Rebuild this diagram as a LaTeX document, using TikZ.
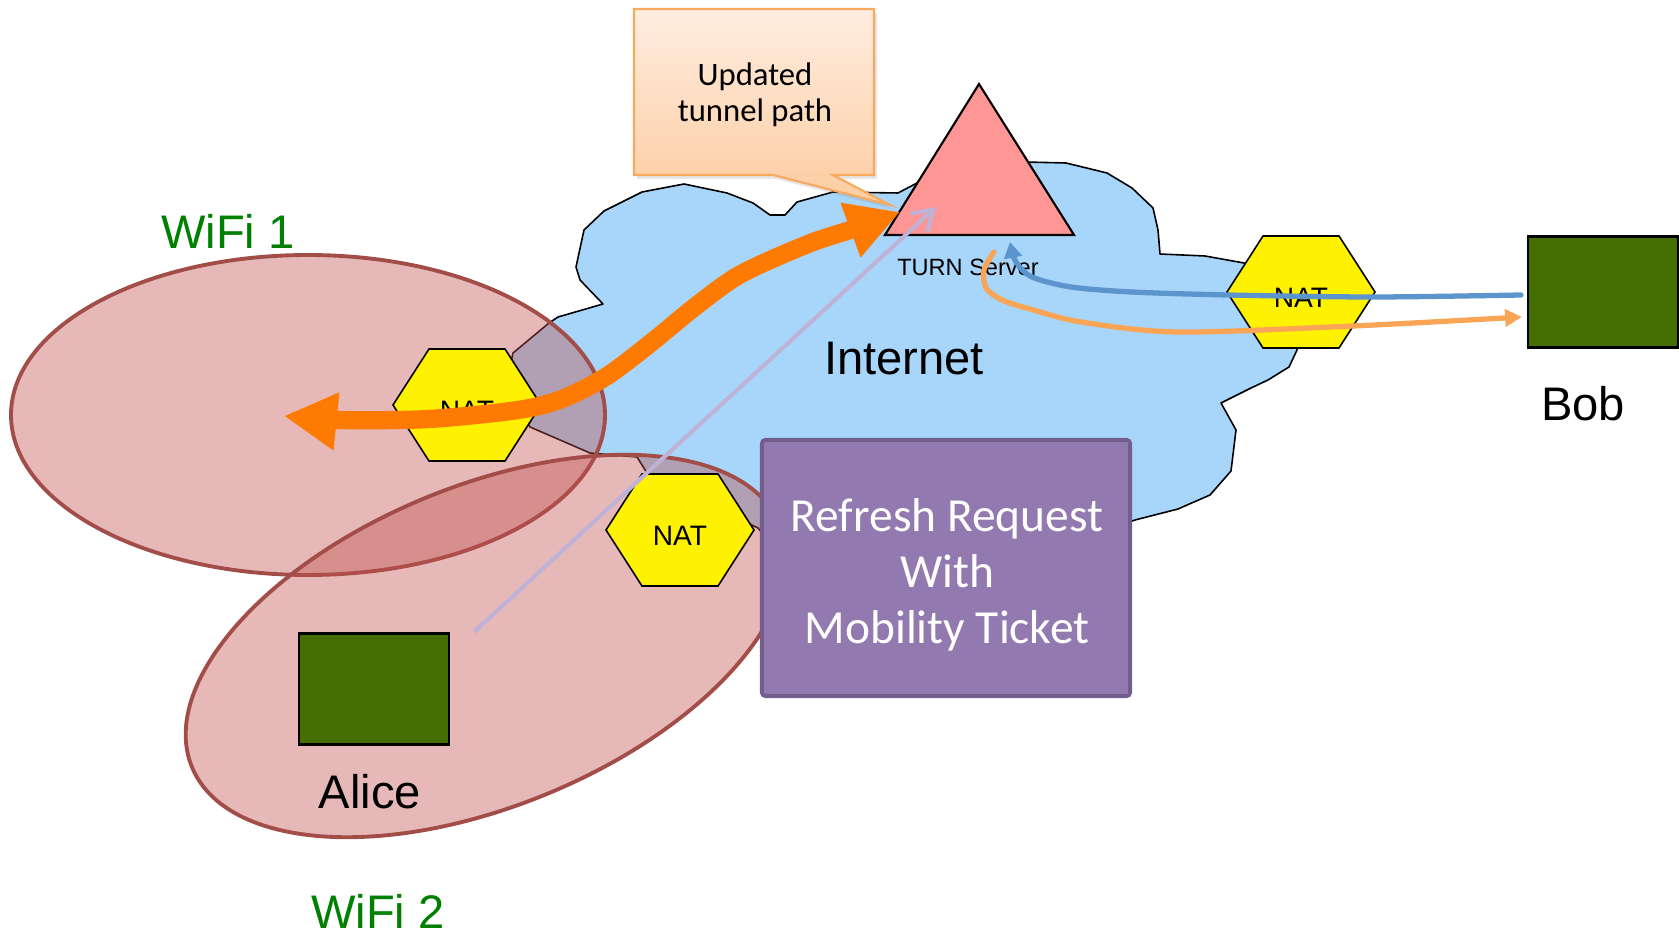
\documentclass[tikz,border=0pt]{standalone}
\usepackage{fontspec}
\newfontfamily\arialf{Liberation Sans}
\newfontfamily\calibf{Carlito}
\usepackage{tikz}
\usetikzlibrary{arrows.meta,shadows}

\definecolor{cloudblue}{RGB}{168,213,250}
\definecolor{turnpink}{RGB}{255,150,150}
\definecolor{wifired}{RGB}{192,80,77}
\definecolor{wifiedge}{RGB}{163,77,73}
\definecolor{hostgreen}{RGB}{68,110,0}
\definecolor{wifigreen}{RGB}{0,128,0}
\definecolor{tunnelorange}{RGB}{255,122,0}
\definecolor{relayorange}{RGB}{250,165,85}
\definecolor{relayblue}{RGB}{92,148,205}
\definecolor{ticketlav}{RGB}{190,178,214}
\definecolor{boxpurple}{RGB}{146,122,176}
\definecolor{boxedge}{RGB}{114,93,140}
\definecolor{notetop}{RGB}{255,237,224}
\definecolor{notebot}{RGB}{252,204,160}
\definecolor{noteedge}{RGB}{249,168,92}

\tikzset{
	wifi/.style={fill=wifired, fill opacity=0.4, draw=wifiedge, line width=1.1pt},
	natshape/.style={fill=yellow, draw=black, line width=0.45pt, line join=miter},
	nattext/.style={inner sep=0pt, font=\arialf\fontsize{8}{9}\selectfont},
	host/.style={fill=hostgreen, draw=black, line width=0.6pt, minimum width=1.5cm, minimum height=1.11cm, inner sep=0pt},
	biglabel/.style={inner sep=0pt, font=\arialf\fontsize{13.4}{16}\selectfont},
	relay/.style={line width=1.5pt, line cap=round}
}

\begin{document}
\begin{tikzpicture}[x=0.01cm,y=-0.01cm]
\useasboundingbox (0,0) rectangle (1679,934);

%Internet cloud
\draw[fill=cloudblue, line width=0.45pt, line join=round] (584,230) -- (604,211) -- (642,192) -- (684,184) -- (727,193) -- (753,203) -- (770,215) -- (785,215) -- (797,202) -- (833,192) -- (898,193) -- (917,183) -- (970,168) -- (1025,162) -- (1066,163) -- (1107,173) -- (1132,188) -- (1153,208) -- (1158,230) -- (1160,254) -- (1205,256) -- (1244,263) -- (1290,300) -- (1297,350) -- (1289,367) -- (1268,380) -- (1251,388) -- (1221,403) -- (1236,430) -- (1231,471) -- (1210,495) -- (1178,509) -- (1135,520) -- (1120,525) -- (850,640) -- (758,528) -- (700,500) -- (647,473) -- (637,457) -- (590,453) -- (530,427) -- (505,390) -- (513,353) -- (549,323) -- (558,317) -- (603,304) -- (580,280) -- (576,267) -- cycle;

%WiFi areas
\draw[wifi] (308,415) ellipse [x radius=297, y radius=160];
\draw[wifi, rotate around={22.4:(486,646)}] (486,646) ellipse [x radius=318, y radius=160];

%TURN server
\draw[fill=turnpink, line width=0.6pt] (979,84) -- (1074,235) -- (885,235) -- cycle;
\node[inner sep=0pt, font=\arialf\fontsize{6.7}{8}\selectfont] (turnlbl) at (968,267) {TURN Server};
\node[biglabel] (internet) at (904,359) {Internet};

%Callout
\path[draw=noteedge, line width=0.6pt, top color=notetop, bottom color=notebot,
	drop shadow={opacity=0.2, shadow xshift=0.03cm, shadow yshift=-0.04cm}]
	(634,9) -- (874,9) -- (874,175) -- (833,175) -- (890,205) -- (773,175) -- (634,175) -- cycle;
\node[inner sep=0pt, align=center, font=\calibf\fontsize{9.3}{10.2}\selectfont] (notetxt) at (755,95) {Updated\\tunnel path};

%NAT boxes
\foreach \nm/\cx/\cy in {natA/467/405, natB/680/530, natC/1301/292} {
	\draw[natshape] (\cx-74,\cy) -- (\cx-38,\cy-56) -- (\cx+38,\cy-56) -- (\cx+74,\cy) -- (\cx+38,\cy+56) -- (\cx-38,\cy+56) -- cycle;
	\node[nattext] (\nm) at (\cx,\cy+6) {NAT};
}

%Hosts
\node[host] (alice) at (374,689) {};
\node[host] (bob) at (1603,292) {};
\node[biglabel] (alicelbl) at (370,792) {Alice};
\node[biglabel] (boblbl) at (1583,404) {Bob};
\node[biglabel, text=wifigreen] (wifiA) at (228,231) {WiFi 1};
\node[biglabel, text=wifigreen] (wifiB) at (378,911) {WiFi 2};

%Refresh request
\node[fill=boxpurple, draw=boxedge, line width=1.1pt, rounded corners=1pt, minimum width=3.68cm, minimum height=2.56cm, inner sep=0pt] (refresh) at (946,568) {};
\node[text=white, align=center, inner sep=0pt, font=\calibf\fontsize{13.5}{15.9}\selectfont] (refreshtxt) at (947,575) {Refresh Request\\With\\Mobility Ticket};

%Arrow ends
\coordinate (tunnelW) at (284,416);
\coordinate (tunnelE) at (900,212);
\coordinate (aliceout) at (474,632);
\coordinate (turnT) at (936,207);
\coordinate (bobin) at (1521,295);
\coordinate (turnB) at (1010,242);
\coordinate (turnO) at (994,252);
\coordinate (bobout) at (1522,317);

%Paths
\draw[tunnelorange, line width=5.2pt, {Triangle[length=15pt,width=15.5pt]}-{Triangle[length=15pt,width=15.5pt]}]
	plot[smooth] coordinates {(tunnelW) (339,420) (429,419) (518,410) (562,399) (607,376) (652,342) (696,306) (741,274) (808,244) (853,229) (tunnelE)};
\draw[ticketlav, line width=1.15pt, -{Straight Barb[length=5.5pt,width=7pt]}] (aliceout) -- (turnT);
\draw[relay, relayblue, -{Triangle[length=4.5pt,width=5pt]}]
	plot[smooth] coordinates {(bobin) (1373,297) (1228,295) (1132,292) (1071,287) (1032,277) (1016,262) (turnB)};
\draw[relay, relayorange, -{Triangle[length=4.8pt,width=4.8pt]}]
	plot[smooth] coordinates {(turnO) (984,270) (986,288) (1002,300) (1030,309) (1081,322) (1178,332) (1353,326) (bobout)};

\end{tikzpicture}
\end{document}
